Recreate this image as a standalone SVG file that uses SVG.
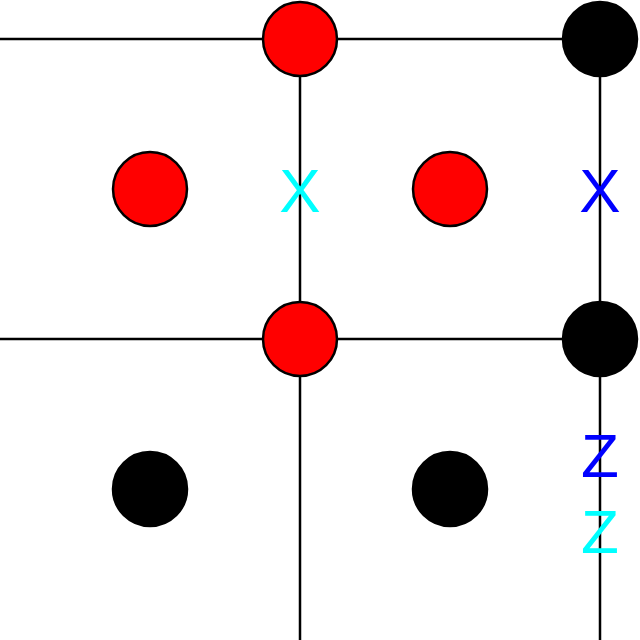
<svg xmlns="http://www.w3.org/2000/svg" width="640" height="640" viewBox="0 0 640 640">
<style>
.l{stroke:#000;stroke-width:2.5;fill:none}
.r{fill:#f00;stroke:#000;stroke-width:2.5}
.b{fill:#000;stroke:#000;stroke-width:2.5}
.t{font-family:"Liberation Sans",Arial,sans-serif;font-size:62px;text-anchor:middle}
</style>
<rect width="640" height="640" fill="#fff"/>
<g id="connectors">
<line class="l" x1="0" y1="39" x2="600" y2="39"/>
<line class="l" x1="0" y1="339" x2="600" y2="339"/>
<line class="l" x1="300" y1="39" x2="300" y2="640"/>
<line class="l" x1="600" y1="39" x2="600" y2="640"/>
</g>
<g id="n1"><circle class="r" cx="300" cy="39" r="37"/></g>
<g id="n2"><circle class="b" cx="600" cy="39" r="37"/></g>
<g id="n3"><circle class="r" cx="150" cy="189" r="37"/></g>
<g id="n4"><circle class="r" cx="450" cy="189" r="37"/></g>
<g id="n5"><circle class="r" cx="300" cy="339" r="37"/></g>
<g id="n6"><circle class="b" cx="600" cy="339" r="37"/></g>
<g id="n7"><circle class="b" cx="150" cy="489" r="37"/></g>
<g id="n8"><circle class="b" cx="450" cy="489" r="37"/></g>
<g id="labels">
<text class="t" x="300" y="212" fill="#0ff">X</text>
<text class="t" x="600" y="212" fill="#00f">X</text>
<text class="t" x="600" y="477" fill="#00f">Z</text>
<text class="t" x="600" y="553" fill="#0ff">Z</text>
</g>
</svg>
